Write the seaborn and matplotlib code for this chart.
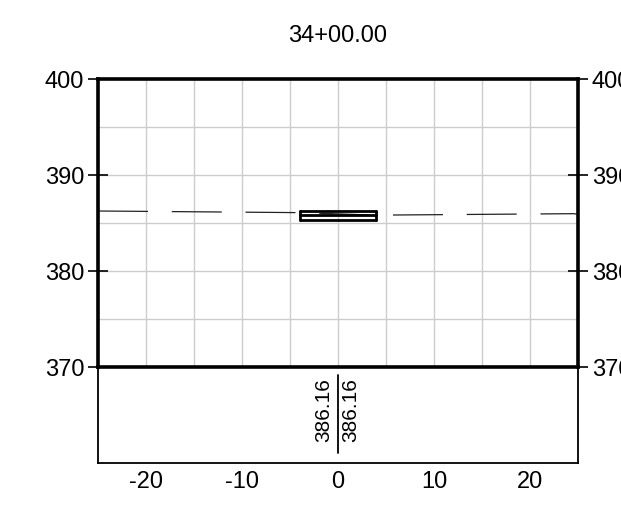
import numpy as np
import pandas as pd
import seaborn as sns
import matplotlib
matplotlib.use("Agg")
import matplotlib.pyplot as plt

# ---- data ----
station = "34+00.00"
ground_x = [-25.0, -4.0, 4.0, 24.5, 25.0]
ground_y = [386.25, 386.08, 385.82, 385.97, 385.92]
pave_x = [-4.0, 4.0]
pave_top = [386.20, 386.20]
pave_mid = [385.88, 385.88]
pave_bot = [385.30, 385.30]
label_vals = ["386.16", "386.16"]
y_ticks = [370, 380, 390, 400]
x_ticks = [-20, -10, 0, 10, 20]

sns.set_style("white")
plt.rcParams['font.family'] = ['Liberation Sans', 'DejaVu Sans']
plt.rcParams['text.color'] = 'black'
plt.rcParams['xtick.color'] = 'black'
plt.rcParams['ytick.color'] = 'black'
plt.rcParams['xtick.labelcolor'] = 'black'
plt.rcParams['ytick.labelcolor'] = 'black'

W, H = 621, 509
fig = plt.figure(figsize=(W / 100, H / 100), dpi=100)
axb = fig.add_axes([98 / W, 1 - 463 / H, 480 / W, 96 / H])
ax = fig.add_axes([98 / W, 1 - 367 / H, 480 / W, 288 / H])
axb.patch.set_visible(False)

FS = 17

# main axes
ax.set_xlim(-25, 25)
ax.set_ylim(370, 400)
ax.set_xticks(x_ticks)
ax.set_xticks(np.arange(-25, 26, 5), minor=True)
ax.set_yticks(y_ticks)
ax.set_yticks(np.arange(370, 401, 5), minor=True)
ax.grid(True, which='both', color='#cccccc', lw=1.0)
ax.set_axisbelow(True)
ax.tick_params(axis='x', which='major', direction='out', length=5, width=2,
               labelbottom=False, color='black')
ax.tick_params(axis='both', which='minor', length=0)
ax.tick_params(axis='y', which='major', direction='inout', length=14, width=1.2,
               left=True, right=True, labelleft=True, labelright=True,
               labelsize=FS, pad=3, color='black')
for s in ax.spines.values():
    s.set_visible(True)
    s.set_linewidth(2.6)
    s.set_color('black')

# ground line
gdf = pd.DataFrame({'x': ground_x, 'y': ground_y})
sns.lineplot(data=gdf, x='x', y='y', ax=ax, sort=False, estimator=None,
             color='#222222', lw=0.9)
ax.lines[-1].set_dashes([40, 19])

# pavement box
for yy in (pave_top, pave_mid, pave_bot):
    sns.lineplot(x=pave_x, y=yy, ax=ax, color='black', lw=2.0, estimator=None)
for xx in pave_x:
    sns.lineplot(x=[xx, xx], y=[pave_bot[0], pave_top[0]], ax=ax, color='black',
                 lw=2.0, estimator=None, sort=False, orient='y')
ax.set_xlabel('')
ax.set_ylabel('')
ax.set_title(station, fontsize=FS, pad=27)

# bottom band
axb.set_xlim(-25, 25)
axb.set_ylim(0, 1)
axb.set_yticks([])
axb.set_xticks(x_ticks)
axb.set_xticklabels([str(v) for v in x_ticks])
axb.tick_params(axis='x', direction='in', length=5, width=1.5, labelsize=FS,
                pad=6, color='black')
axb.spines['top'].set_visible(False)
for k in ('left', 'right', 'bottom'):
    axb.spines[k].set_visible(True)
    axb.spines[k].set_linewidth(1.3)
    axb.spines[k].set_color('black')
axb.plot([0, 0], [0.10, 0.92], color='black', lw=1.3)
axb.text(-1.45, 0.55, label_vals[0], rotation=90, ha='center', va='center', fontsize=15)
axb.text(1.35, 0.55, label_vals[1], rotation=90, ha='center', va='center', fontsize=15)

fig.savefig('out.png', dpi=100)
